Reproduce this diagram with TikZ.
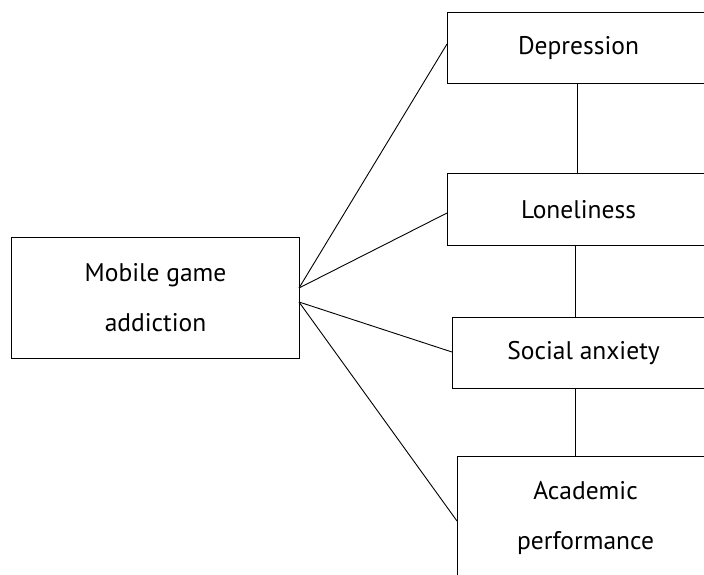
\documentclass[tikz,border=0pt]{standalone}
\usepackage{fontspec}
\setmainfont{PT Sans}
\usetikzlibrary{calc}
\begin{document}
\begin{tikzpicture}[x=1pt,y=-1pt,
  box/.style={draw=black,line width=1.1pt,fill=white,inner sep=0pt,align=center,font=\fontsize{25.5}{50}\selectfont},
  link/.style={draw=black,line width=0.9pt}]
\useasboundingbox (0,0) rectangle (704,574);
\begin{scope}
\clip (0,0) rectangle (704,574);
\node[box,anchor=north west,minimum width=288pt,minimum height=121pt] (mob) at (11,237) {Mobile game\\addiction};
\node[box,anchor=north west,minimum width=262pt,minimum height=71pt] (dep) at (447,12) {Depression};
\node[box,anchor=north west,minimum width=262pt,minimum height=72pt] (lon) at (447,173) {Loneliness};
\node[box,anchor=north west,minimum width=262pt,minimum height=71pt] (soc) at (452,317) {Social anxiety};
\node[box,anchor=north west,minimum width=256pt,minimum height=122pt] (aca) at (457,456) {Academic\\performance};
\coordinate (mu) at (299,288);
\coordinate (ml) at (299,302);
\draw[link] (mu) -- (447,44) coordinate (dend);
\draw[link] (mu) -- (447,213) coordinate (lend);
\draw[link] (ml) -- (452,352) coordinate (send);
\draw[link] (ml) -- (457,521) coordinate (aend);
\draw[link] (dep.south -| 577,0) -- (lon.north -| 577,0);
\draw[link] (lon.south -| 575,0) -- (soc.north -| 575,0);
\draw[link] (soc.south -| 575,0) -- (aca.north -| 575,0);
\end{scope}
\end{tikzpicture}
\end{document}
